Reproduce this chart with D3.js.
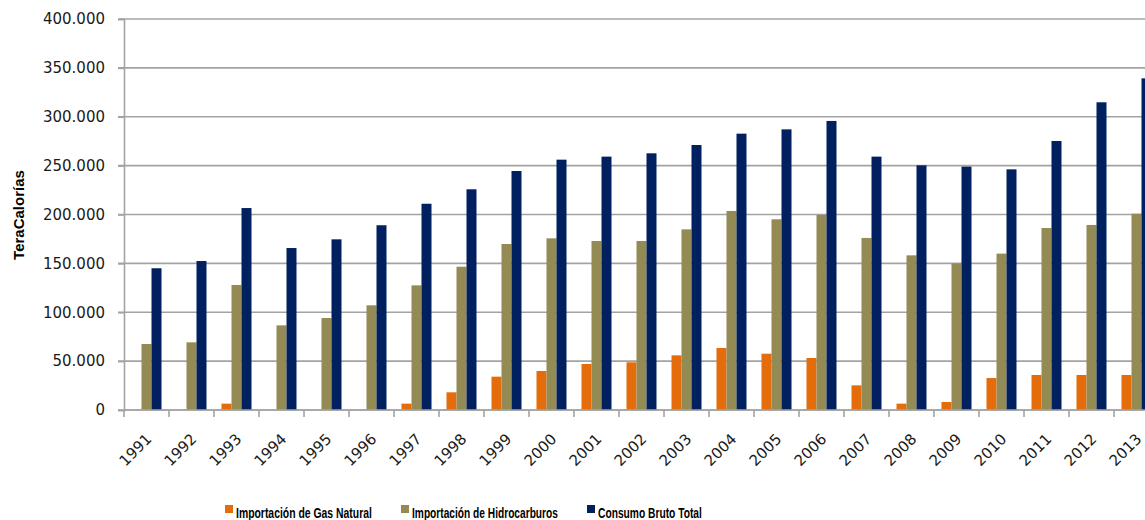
<!DOCTYPE html>
<html>
<head>
<meta charset="utf-8">
<script src="https://cdn.jsdelivr.net/npm/d3@7"></script>
<style>
  html, body { margin: 0; padding: 0; background: #fff; }
  svg { display: block; }
</style>
</head>
<body>
<svg id="chart" width="1145" height="520"></svg>
<script>
const years = ["1991","1992","1993","1994","1995","1996","1997","1998","1999","2000","2001","2002","2003","2004","2005","2006","2007","2008","2009","2010","2011","2012","2013"];
const seriesNames = ["Importación de Gas Natural", "Importación de Hidrocarburos", "Consumo Bruto Total"];
const gasNatural = [0, 0, 6500, 0, 0, 0, 6500, 18100, 34100, 39900, 47100, 48800, 55900, 63400, 57600, 53200, 25200, 6500, 8200, 32700, 35800, 35800, 35800];
const hidrocarburos = [67500, 69200, 127900, 86600, 94100, 107100, 127500, 146600, 169800, 175600, 172900, 172900, 184800, 203600, 195100, 199500, 176000, 158200, 150000, 160000, 186200, 189300, 200800];
const consumoBruto = [145000, 152400, 206600, 165700, 174600, 189000, 211000, 225800, 244500, 256100, 259200, 262600, 271100, 282700, 287100, 295700, 259200, 250300, 249000, 246200, 275200, 314800, 339300];
const yTicks = [0, 50000, 100000, 150000, 200000, 250000, 300000, 350000, 400000];
const colors = ["#E46C0A", "#948A54", "#002060"];

const seriesValues = [gasNatural, hidrocarburos, consumoBruto];

const svg = d3.select("#chart");
const plotLeft = 124, plotTop = 19, plotBottom = 410;
const bandW = 45;

const x = d3.scaleBand().domain(years).range([plotLeft, plotLeft + bandW * years.length]).paddingInner(0).paddingOuter(0);
const xSub = d3.scaleBand().domain(seriesNames).range([7.5, 37.5]).padding(0);
const y = d3.scaleLinear().domain([0, 400000]).range([plotBottom, plotTop]);

const locale = d3.formatLocale({ decimal: ",", thousands: ".", grouping: [3], currency: ["", ""] });
const fmt = locale.format(",");

// gridlines
svg.append("g")
  .selectAll("line")
  .data(yTicks)
  .join("line")
  .attr("x1", plotLeft - 6)
  .attr("x2", 1145)
  .attr("y1", d => y(d))
  .attr("y2", d => y(d))
  .attr("stroke", "#a3a3a3")
  .attr("stroke-width", 1.6);

// y axis
const yAxis = svg.append("g")
  .attr("transform", `translate(${plotLeft},0)`)
  .call(d3.axisLeft(y).tickValues(yTicks).tickFormat(fmt).tickSize(6).tickPadding(13));
yAxis.select(".domain").attr("stroke", "#a3a3a3").attr("stroke-width", 1.6);
yAxis.selectAll(".tick line").attr("stroke", "#a3a3a3").attr("stroke-width", 1.6);
yAxis.selectAll(".tick text")
  .attr("font-family", "'DejaVu Sans', sans-serif")
  .attr("font-size", "15px")
  .attr("fill", "#1a1a1a");

// bars
const groups = svg.append("g")
  .selectAll("g")
  .data(years)
  .join("g")
  .attr("transform", d => `translate(${x(d)},0)`);

groups.selectAll("rect")
  .data((d, i) => seriesNames.map((s, k) => ({ s, k, v: seriesValues[k][i] })))
  .join("rect")
  .attr("x", d => xSub(d.s))
  .attr("width", xSub.bandwidth())
  .attr("y", d => y(d.v))
  .attr("height", d => y(0) - y(d.v))
  .attr("fill", d => colors[d.k]);

// x axis
const xAxisG = svg.append("g").attr("transform", `translate(0,${plotBottom})`);
xAxisG.append("line")
  .attr("x1", plotLeft).attr("x2", 1145)
  .attr("y1", 0).attr("y2", 0)
  .attr("stroke", "#a3a3a3").attr("stroke-width", 1.6);
xAxisG.selectAll("line.tk")
  .data(years)
  .join("line")
  .attr("class", "tk")
  .attr("x1", d => x(d)).attr("x2", d => x(d))
  .attr("y1", 0).attr("y2", 7)
  .attr("stroke", "#a3a3a3").attr("stroke-width", 1.6);
xAxisG.selectAll("text")
  .data(years)
  .join("text")
  .attr("transform", d => `translate(${x(d) + x.bandwidth() / 2 + 6},30) rotate(-45)`)
  .attr("text-anchor", "end")
  .attr("font-family", "'DejaVu Sans', sans-serif")
  .attr("font-size", "15px")
  .attr("fill", "#1a1a1a")
  .text(d => d);

// y title
svg.append("text")
  .attr("transform", "translate(24,215) rotate(-90)")
  .attr("text-anchor", "middle")
  .attr("font-family", "'Liberation Sans', Arial, sans-serif")
  .attr("font-weight", "bold")
  .attr("font-size", "15px")
  .attr("fill", "#000")
  .text("TeraCalorías");

// legend
const legendX = [225, 401, 587];
const legendW = [136, 146, 104];
const legend = svg.append("g")
  .selectAll("g")
  .data(seriesNames)
  .join("g")
  .attr("transform", (d, i) => `translate(${legendX[i]},505)`);
legend.append("rect")
  .attr("width", 8).attr("height", 8)
  .attr("fill", (d, i) => colors[i]);
legend.append("text")
  .attr("font-family", "'Liberation Sans', Arial, sans-serif")
  .attr("font-weight", "bold")
  .attr("font-size", "14px")
  .attr("fill", "#000")
  .text(d => d)
  .attr("transform", function(d, i) {
    const w = this.getComputedTextLength();
    const s = w > 0 ? legendW[i] / w : 1;
    return `translate(11,12.5) scale(${s},1)`;
  });
</script>
</body>
</html>
